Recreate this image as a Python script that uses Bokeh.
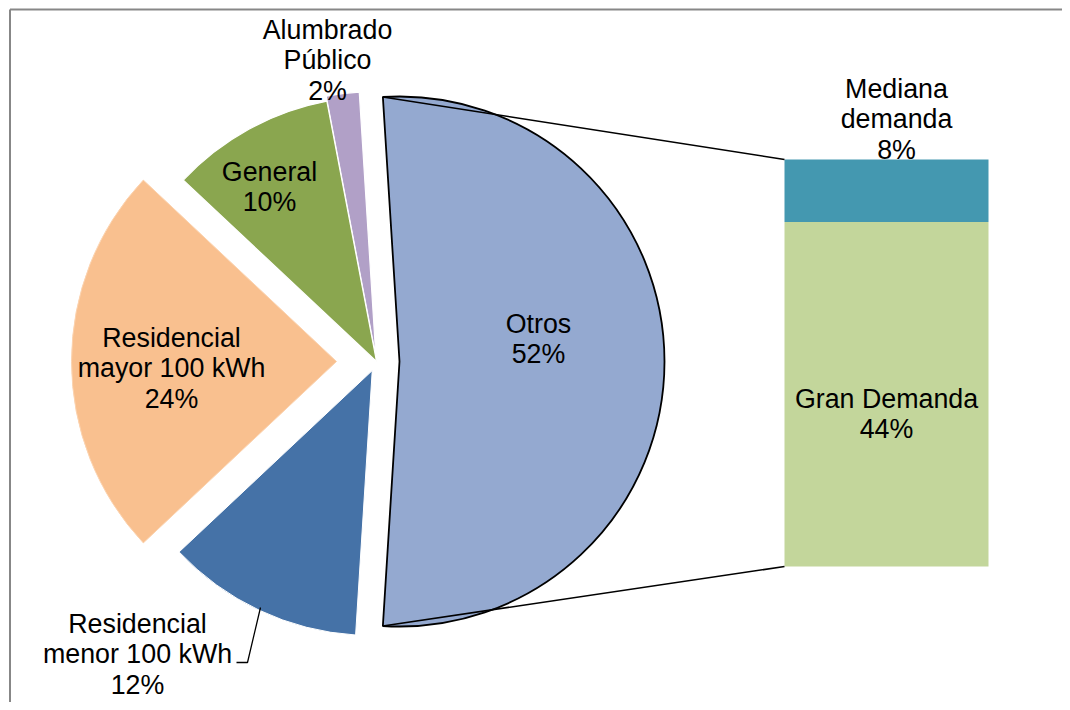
import numpy as np
from bokeh.plotting import figure
from bokeh.models import Range1d
from bokeh.embed import file_html
from bokeh.resources import INLINE
from bokeh.core.properties import value

# ---------------- data ----------------
pie_names = ["Otros", "Alumbrado\nPúblico", "General", "Residencial\nmayor 100 kWh", "Residencial\nmenor 100 kWh"]
pie_values = [52, 2, 10, 24, 12]
bar_names = ["Gran Demanda", "Mediana\ndemanda"]
bar_values = [44, 8]

# ---------------- style / layout ----------------
pie_colors = ["#94A9D0", "#B1A0C7", "#8AA64F", "#F9C08F", "#4572A7"]
pie_lines = ["black", "white", "white", "#FBD3B0", "white"]
pie_line_w = [1.8, 1.2, 1.2, 1.0, 1.0]
explode = [23, 5, 0, 40, 10]
bar_colors = ["#C3D69B", "#4498B0"]

W, H = 1062, 702
def X(px):
    return px
def Y(py):
    return H - py

CX, CY, R = X(376), Y(361), 265.0
BAR_L, BAR_R, BAR_B, BAR_T = X(784), X(988), Y(566), Y(159)

FONT = value("Liberation Sans")
FSIZE = "26.8px"
LINE_SP = 30.8
TEXT_DY = -9

pie_label_pos = [(538, 332), (327, 38), (269, 180), (171, 346), (137, 632)]
bar_label_pos = [(886, 407), (896, 97)]

p = figure(width=W, height=H, output_backend="svg", toolbar_location=None,
           x_range=Range1d(0, W), y_range=Range1d(0, H), min_border=0)
p.axis.visible = False
p.grid.visible = False
p.outline_line_color = None
p.background_fill_color = "white"
p.border_fill_color = "white"

# chart frame (left and top edge visible in window)
p.line([X(9.5), X(9.5)], [Y(712), Y(9)], line_color="#878787", line_width=2)
p.line([X(9.5), X(1072)], [Y(9), Y(9)], line_color="#878787", line_width=2)

# ---------------- pie ----------------
total = float(sum(pie_values))
sweeps = [v / total * 2 * np.pi for v in pie_values]
start0 = -sweeps[0] / 2
starts, ends = [], []
a = start0
for s in sweeps:
    starts.append(a)
    ends.append(a + s)
    a += s

centers = []
for i in range(len(pie_values)):
    mid = (starts[i] + ends[i]) / 2
    cx = CX + explode[i] * np.cos(mid)
    cy = CY + explode[i] * np.sin(mid)
    centers.append((cx, cy))

order = [1, 2, 3, 4, 0]
for i in order:
    cx, cy = centers[i]
    p.wedge(x=[cx], y=[cy], radius=R, start_angle=[starts[i]], end_angle=[ends[i]],
            fill_color=pie_colors[i], line_color=pie_lines[i], line_width=pie_line_w[i])

# ---------------- bar ----------------
scale = (BAR_T - BAR_B) / float(sum(bar_values))
bottoms = np.concatenate([[0], np.cumsum(bar_values)[:-1]])
for v, b, c in zip(bar_values, bottoms, bar_colors):
    p.quad(left=[BAR_L], right=[BAR_R], bottom=[BAR_B + b * scale], top=[BAR_B + (b + v) * scale],
           fill_color=c, line_color=None)

# connector lines
ocx, ocy = centers[0]
top_pt = (ocx + R * np.cos(ends[0]), ocy + R * np.sin(ends[0]))
bot_pt = (ocx + R * np.cos(starts[0]), ocy + R * np.sin(starts[0]))
p.line([top_pt[0], BAR_L], [top_pt[1], BAR_T], line_color="black", line_width=1.6)
p.line([bot_pt[0], BAR_L], [bot_pt[1], BAR_B], line_color="black", line_width=1.6)

# leader line for 'Residencial menor'
p.line([X(236), X(247), X(260)], [Y(662), Y(662), Y(607)], line_color="black", line_width=1.3)

# ---------------- labels ----------------
def put_label(name, v, pos):
    lines = name.split("\n") + [f"{v}%"]
    xs = [X(pos[0])] * len(lines)
    ys = [Y(pos[1] + TEXT_DY + k * LINE_SP) for k in range(len(lines))]
    p.text(x=xs, y=ys, text=lines, text_font=FONT, text_font_size=FSIZE,
           text_align="center", text_baseline="alphabetic", text_color="black")

for name, v, pos in zip(pie_names, pie_values, pie_label_pos):
    put_label(name, v, pos)
for name, v, pos in zip(bar_names, bar_values, bar_label_pos):
    put_label(name, v, pos)

open("out.html", "w").write(file_html(p, INLINE))
